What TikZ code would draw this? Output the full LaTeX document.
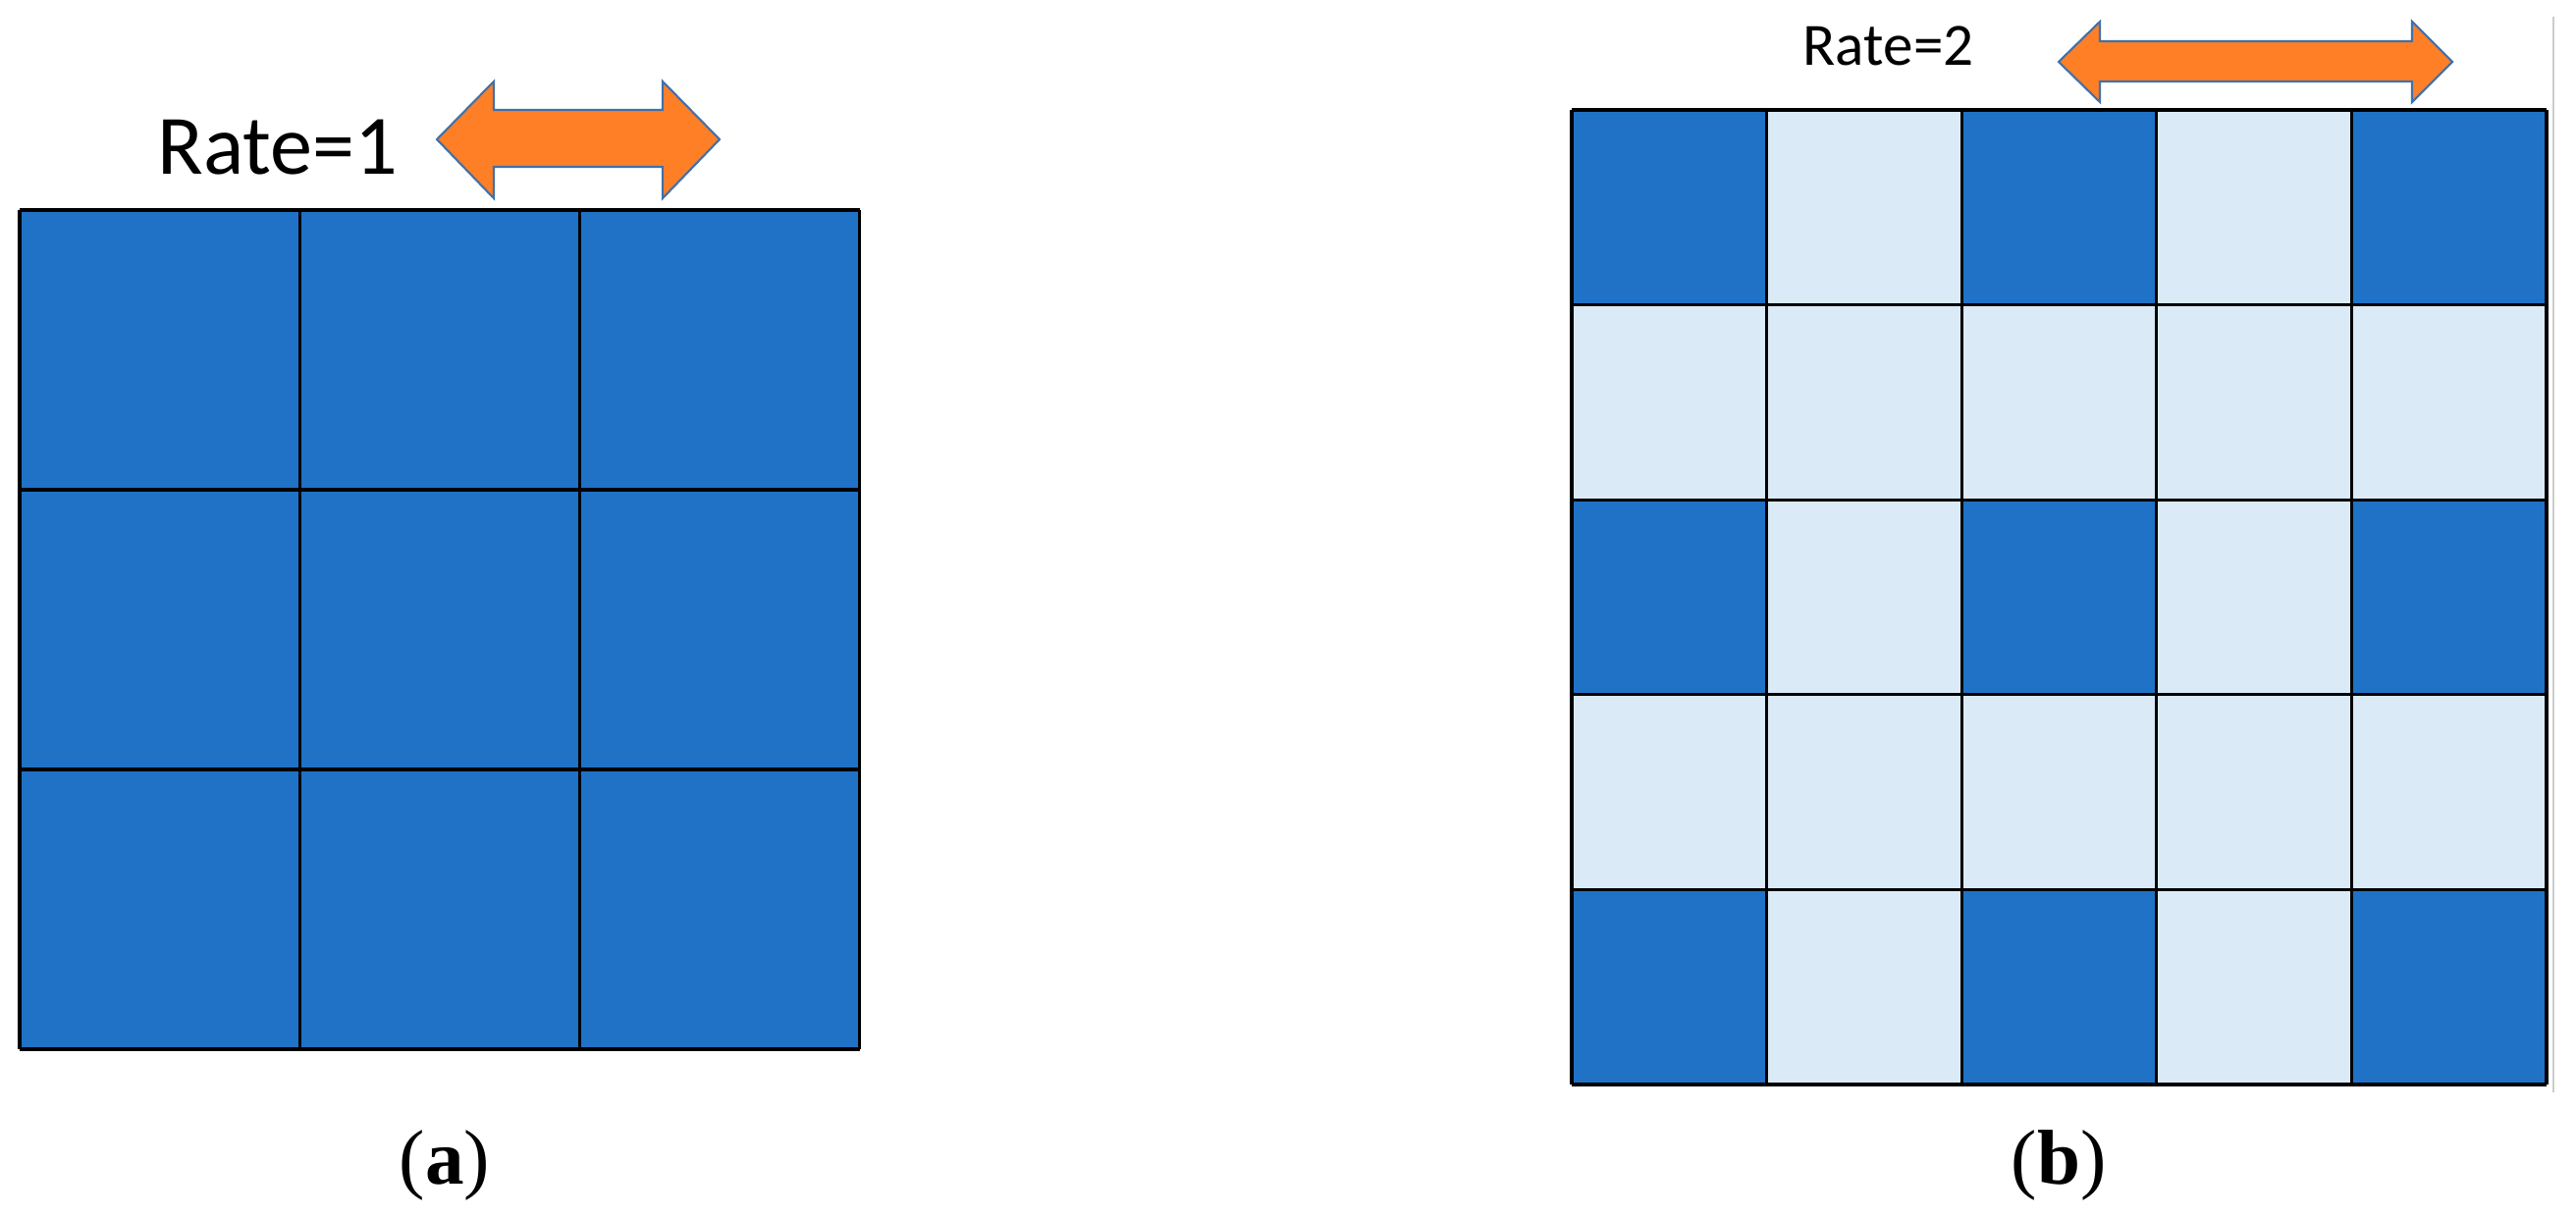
\documentclass[tikz,border=0pt]{standalone}
\usepackage{fontspec}
\setmainfont{Liberation Serif}
\newfontfamily\calib{Carlito}
\definecolor{darkcell}{RGB}{31,114,198}
\definecolor{lightcell}{RGB}{218,234,246}
\definecolor{arroworange}{RGB}{255,127,39}
\definecolor{arrowedge}{RGB}{65,113,170}
\begin{document}
\begin{tikzpicture}[x=0.01cm,y=-0.01cm,
  gridline/.style={draw=black,line width=0.9pt},
  dcell/.style={fill=darkcell},
  lcell/.style={fill=lightcell},
  dblarrow/.style={fill=arroworange,draw=arrowedge,line width=0.6pt,line join=miter},
  ratelabel/.style={inner sep=0pt,anchor=base west,font=\calib},
  caption/.style={inner sep=0pt,anchor=base}]
\useasboundingbox (0,0) rectangle (2624,1239);
\fill[white] (0,0) rectangle (2624,1239);

% ---- (a) grid 3x3
\fill[dcell] (20,214) rectangle (876,1069);
\foreach \i in {0,...,3}{
  \draw[gridline] ({20+\i*285.3},214) -- ({20+\i*285.3},1069);
  \draw[gridline] (20,{214+\i*285}) -- (876,{214+\i*285});
}

% ---- (b) grid 5x5
\foreach \r in {0,...,4}{
  \foreach \c in {0,...,4}{
    \pgfmathtruncatemacro{\dk}{(mod(\r,2)==0 && mod(\c,2)==0) ? 1 : 0}
    \ifnum\dk=1
      \fill[dcell] ({1601+\c*198.6},{112+\r*198.6}) rectangle ++(198.6,198.6);
    \else
      \fill[lcell] ({1601+\c*198.6},{112+\r*198.6}) rectangle ++(198.6,198.6);
    \fi
  }
}
\foreach \i in {0,...,5}{
  \draw[gridline] ({1601+\i*198.6},112) -- ({1601+\i*198.6},1105);
  \draw[gridline] (1601,{112+\i*198.6}) -- (2594,{112+\i*198.6});
}
\draw[black!20,line width=0.6pt] (2601,17) -- (2601,1113);

% ---- labels
\node[ratelabel,font=\calib\fontsize{24.5}{28}\selectfont] (rate1) at (160,177) {Rate=1};
\node[ratelabel,font=\calib\fontsize{17.4}{20}\selectfont] (rate2) at (1836,66) {Rate=2};

% ---- double arrows
\draw[dblarrow] (445,142) -- (503,83) -- (503,112) -- (675,112) -- (675,83)
  -- (733,142) -- (675,202) -- (675,170) -- (503,170) -- (503,202) -- cycle;
\draw[dblarrow] (2097,63) -- (2139,22) -- (2139,42) -- (2457,42) -- (2457,22)
  -- (2498,63) -- (2457,104) -- (2457,83) -- (2139,83) -- (2139,104) -- cycle;

% ---- captions
\node[caption,font=\fontsize{22.5}{26}\selectfont] (capa) at (453,1206) {(\textbf{a})};
\node[caption,font=\fontsize{22.5}{26}\selectfont] (capb) at (2097,1206) {(\textbf{b})};
\end{tikzpicture}
\end{document}
